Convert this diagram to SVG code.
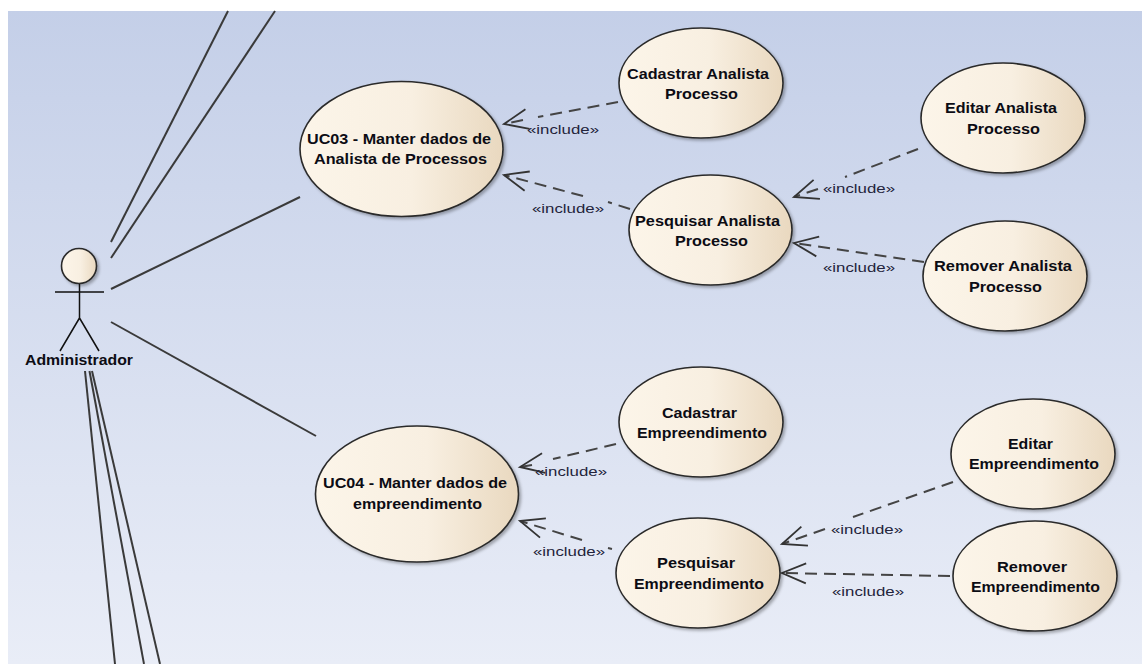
<svg xmlns="http://www.w3.org/2000/svg" width="1142" height="664" viewBox="0 0 1142 664">
<style>
text{font-family:"Liberation Sans",Arial,sans-serif;fill:#0c0c14}
.n{font-size:14px;font-weight:bold}
.l{font-size:13.500px;fill:#24243c}
.u{fill:url(#fill);stroke:#2b2b2b;stroke-width:1.6}
.a{fill:none;stroke:#3a3a3a;stroke-width:2}
.d{fill:none;stroke:#444;stroke-width:2;stroke-dasharray:12 7;marker-end:url(#open)}
.s{fill:none;stroke:#111;stroke-width:1.5}
</style>
<defs>
<linearGradient id="bg" x1="0" y1="0" x2="0" y2="1"><stop offset="0" stop-color="#c4cfe8"/><stop offset="1" stop-color="#e9edf7"/></linearGradient>
<linearGradient id="fill" x1="0" y1="0" x2="1" y2="0"><stop offset="0" stop-color="#fcf5e9"/><stop offset="0.55" stop-color="#f8efe1"/><stop offset="1" stop-color="#e9d8bf"/></linearGradient>
<filter id="sh" x="-10%" y="-10%" width="125%" height="125%"><feDropShadow dx="2" dy="2" stdDeviation="1.5" flood-color="#000" flood-opacity="0.3"/></filter>
<marker id="open" markerUnits="userSpaceOnUse" markerWidth="32" markerHeight="28" refX="26" refY="13" orient="auto"><path d="M2 3 L26 13 L2 23" fill="none" stroke="#333" stroke-width="1.8"/></marker>
</defs>
<rect x="0" y="0" width="1142" height="664" fill="#fff"/>
<rect x="8" y="11" width="1134" height="653" fill="url(#bg)"/>
<g id="connectors">
<path class="a" d="M111 242 L228 11"/>
<path class="a" d="M111 258 L275 11"/>
<path class="a" d="M111 289 L300 197"/>
<path class="a" d="M111 322 L316 436"/>
<path class="a" d="M85 371 L115 664"/>
<path class="a" d="M89.500 371 L144 664"/>
<path class="a" d="M92 371 L160 664"/>
<path class="d" d="M618 102 L538 117 M523 120 L504 124"/>
<path class="d" d="M630 209 L608 202 M583 196 L504 175"/>
<path class="d" d="M918 149 L845 177 M818 189 L794 197"/>
<path class="d" d="M924 262 L794 243"/>
<path class="d" d="M616 444 L553 459 M532 465 L520 467"/>
<path class="d" d="M612 549 L608 548 M582 540 L520 521"/>
<path class="d" d="M953 482 L853 517 M825 529 L782 544"/>
<path class="d" d="M950 576 L782 573"/>
</g>
<g id="uc03"><ellipse class="u" filter="url(#sh)" cx="401.500" cy="149" rx="101.500" ry="67.500"/><text class="n" x="307" y="144" textLength="184" lengthAdjust="spacingAndGlyphs">UC03 - Manter dados de</text><text class="n" x="314" y="164" textLength="173" lengthAdjust="spacingAndGlyphs">Analista de Processos</text></g>
<g id="cadastrar-analista"><ellipse class="u" filter="url(#sh)" cx="701" cy="83" rx="82" ry="55"/><text class="n" x="627" y="79" textLength="142" lengthAdjust="spacingAndGlyphs">Cadastrar Analista</text><text class="n" x="665" y="99" textLength="73" lengthAdjust="spacingAndGlyphs">Processo</text></g>
<g id="pesquisar-analista"><ellipse class="u" filter="url(#sh)" cx="710.500" cy="230" rx="81.500" ry="55"/><text class="n" x="635" y="226" textLength="145" lengthAdjust="spacingAndGlyphs">Pesquisar Analista</text><text class="n" x="675" y="246" textLength="73" lengthAdjust="spacingAndGlyphs">Processo</text></g>
<g id="editar-analista"><ellipse class="u" filter="url(#sh)" cx="1003" cy="118" rx="82" ry="55"/><text class="n" x="945" y="113" textLength="112" lengthAdjust="spacingAndGlyphs">Editar Analista</text><text class="n" x="967" y="134" textLength="73" lengthAdjust="spacingAndGlyphs">Processo</text></g>
<g id="remover-analista"><ellipse class="u" filter="url(#sh)" cx="1005" cy="276" rx="82" ry="55"/><text class="n" x="934" y="271" textLength="138" lengthAdjust="spacingAndGlyphs">Remover Analista</text><text class="n" x="969" y="292" textLength="73" lengthAdjust="spacingAndGlyphs">Processo</text></g>
<g id="uc04"><ellipse class="u" filter="url(#sh)" cx="417" cy="494" rx="101.500" ry="68"/><text class="n" x="323" y="488" textLength="184" lengthAdjust="spacingAndGlyphs">UC04 - Manter dados de</text><text class="n" x="353" y="509" textLength="129" lengthAdjust="spacingAndGlyphs">empreendimento</text></g>
<g id="cadastrar-emp"><ellipse class="u" filter="url(#sh)" cx="701" cy="422" rx="82" ry="55"/><text class="n" x="662" y="418" textLength="75" lengthAdjust="spacingAndGlyphs">Cadastrar</text><text class="n" x="637" y="438" textLength="130" lengthAdjust="spacingAndGlyphs">Empreendimento</text></g>
<g id="pesquisar-emp"><ellipse class="u" filter="url(#sh)" cx="698" cy="573" rx="82" ry="55"/><text class="n" x="657" y="568" textLength="78" lengthAdjust="spacingAndGlyphs">Pesquisar</text><text class="n" x="634" y="589" textLength="130" lengthAdjust="spacingAndGlyphs">Empreendimento</text></g>
<g id="editar-emp"><ellipse class="u" filter="url(#sh)" cx="1033" cy="454" rx="82" ry="55"/><text class="n" x="1008" y="449" textLength="45" lengthAdjust="spacingAndGlyphs">Editar</text><text class="n" x="969" y="469" textLength="130" lengthAdjust="spacingAndGlyphs">Empreendimento</text></g>
<g id="remover-emp"><ellipse class="u" filter="url(#sh)" cx="1035" cy="576" rx="82" ry="55"/><text class="n" x="997" y="572" textLength="70" lengthAdjust="spacingAndGlyphs">Remover</text><text class="n" x="971" y="592" textLength="129" lengthAdjust="spacingAndGlyphs">Empreendimento</text></g>
<g id="administrador">
<circle class="u" filter="url(#sh)" cx="79" cy="266" r="17.500"/>
<path class="s" d="M55 292 H104 M79.500 284 V318 M79.500 318 L60 351 M79.500 318 L99 351"/>
<text class="n" x="25" y="365" textLength="108" lengthAdjust="spacingAndGlyphs">Administrador</text>
</g>
<g id="labels">
<text class="l" x="527" y="134" textLength="72" lengthAdjust="spacingAndGlyphs">«include»</text>
<text class="l" x="532" y="213" textLength="72" lengthAdjust="spacingAndGlyphs">«include»</text>
<text class="l" x="823" y="193" textLength="72" lengthAdjust="spacingAndGlyphs">«include»</text>
<text class="l" x="823" y="272" textLength="72" lengthAdjust="spacingAndGlyphs">«include»</text>
<text class="l" x="535" y="476" textLength="72" lengthAdjust="spacingAndGlyphs">«include»</text>
<text class="l" x="533" y="556" textLength="72" lengthAdjust="spacingAndGlyphs">«include»</text>
<text class="l" x="831" y="534" textLength="72" lengthAdjust="spacingAndGlyphs">«include»</text>
<text class="l" x="832" y="596" textLength="72" lengthAdjust="spacingAndGlyphs">«include»</text>
</g>
</svg>
